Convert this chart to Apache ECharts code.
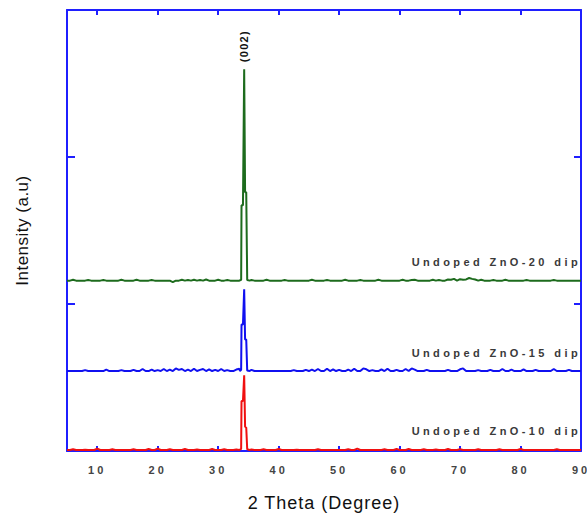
<!DOCTYPE html>
<html><head><meta charset="utf-8">
<script src="https://cdn.jsdelivr.net/npm/echarts@6/dist/echarts.min.js"></script>
<style>html,body{margin:0;padding:0;background:#fff}#c{width:587px;height:518px}</style>
</head><body><div id="c"></div>
<script>
// background sampling: 5..33.5 and 35.5..90 degrees, every 0.5 degree
const bgStart1 = 5, bgEnd1 = 33.5, bgStart2 = 35.5, bgEnd2 = 90, bgStep = 0.5;
// 2-theta sampling around the (002) reflection
const peakTheta = [33.6, 33.8, 33.86, 34.1, 34.3, 34.45, 34.64, 34.8, 35.2];

// intensities (a.u.), relative to each curve's own offset
const red10Base = [
  7,7,12,7,7,7,9,7,7,7, 16,7,7,7,7,12,7,7,7,7, 7,7,12,7,7,7,7,14,7,7,
  16,7,7,7,12,7,7,7,7,14, 7,7,7,10,7,7,7,7,14,7, 7,7,12,7,7,7,10,7,
  10,7,7,7,12,7,7,7,7,
  14,7,7,7,7,7,9,7,7,7, 7,7,7,12,7,7,7,7,7,7, 7,7,7,12,7,7,16,7,7,7,
  7,7,7,7,7,12,7,7,7,14, 7,7,7,14,7,7,7,7,12,7, 7,7,10,7,7,7,14,7,7,7,
  12,7,7,7,7,7,12,7,7,7, 7,7,7,12,7,7,7,7,7,7, 14,7,7,7,7,7,7,7,7,7,
  7,7,12,7,7,7,7,7,7,7, 7];
const red10Peak = [9, 15, 340, 340, 515, 165, 160, 12, 7];

const blue15Base = [
  4,4,4,4,4,4,10,4,4,4, 4,4,4,14,4,4,4,4,10,4, 4,4,12,4,4,18,4,4,14,4,
  10,4,18,4,14,4,22,12,18,4, 14,4,20,4,12,18,4,16,4,12, 4,18,4,10,4,4,14,20,
  12,4,4,4,4,4,4,4,4,
  4,4,4,4,4,10,4,4,4,12, 4,14,4,18,4,4,20,4,16,4, 12,4,4,14,4,20,4,4,22,16,
  4,10,4,4,16,4,20,4,4,12, 4,4,18,4,22,14,4,4,4,12, 4,4,4,4,4,4,12,4,4,4,
  16,22,4,4,4,4,10,4,4,4, 12,4,4,4,18,4,4,14,4,4, 4,16,4,4,4,12,4,4,4,4,
  4,18,4,4,4,4,12,4,4,4, 4];
const blue15Peak = [4, 12, 320, 320, 560, 218, 218, 8, 4];

const green20Base = [
  4,4,10,4,4,4,4,8,4,4, 4,4,8,4,4,4,4,4,10,4, 4,4,4,10,4,4,4,4,8,4,
  4,4,4,4,4,-6,4,4,10,4, 8,4,10,4,8,4,12,4,4,4, 10,4,4,8,4,4,4,4,
  8,4,4,4,4,10,4,4,4,
  4,4,8,4,4,4,4,4,4,4, 4,10,4,4,4,4,8,4,4,4, 4,4,10,4,4,4,4,8,4,4,
  4,4,4,10,4,4,4,4,4,4, 4,10,4,4,8,10,4,4,4,4, 4,10,4,8,4,4,12,10,16,4,
  14,10,12,22,16,12,4,10,4,4, 4,8,4,4,4,10,4,4,4,4, 4,4,8,4,4,4,4,4,4,4,
  4,8,4,4,4,4,4,4,4,4, 4];
const green20Peak = [4, 10, 517, 517, 1442, 605, 605, 8, 4];

// vertical offsets of the stacked curves (a.u.)
const offset10 = 0, offset15 = 540, offset20 = 1155;

const seriesNames = ['Undoped ZnO-10 dip', 'Undoped ZnO-15 dip', 'Undoped ZnO-20 dip'];
const peakLabel = '(002)';
const xTickValues = [10,20,30,40,50,60,70,80,90];
const xLabelValues = [10,20,30,40,50,60,70,80,90];
const xName = '2 Theta (Degree)';
const yName = 'Intensity (a.u)';

const AXIS = '#1f1fff';
const font = 'Liberation Sans, Arial, sans-serif';

const bgTheta = [];
for (let x = bgStart1; x <= bgEnd1 + 1e-9; x += bgStep) bgTheta.push(+x.toFixed(2));
for (let x = bgStart2; x <= bgEnd2 + 1e-9; x += bgStep) bgTheta.push(+x.toFixed(2));

function buildData(baseVals, peakVals, offset, name, withPeakLabel) {
  const pts = [];
  bgTheta.forEach((x, i) => pts.push([x, baseVals[i] + offset]));
  peakTheta.forEach((x, i) => pts.push([x, peakVals[i] + offset]));
  pts.sort((a, b) => a[0] - b[0]);
  let maxIdx = 0;
  pts.forEach((p, i) => { if (p[1] > pts[maxIdx][1]) maxIdx = i; });
  return pts.map((p, i) => {
    const item = { value: [p[0], p[1]] };
    if (i === pts.length - 1) {
      item.label = { show: true, formatter: name, position: 'top', align: 'right', distance: 13,
        color: '#3a3a3a', fontSize: 11, fontWeight: 'bold', fontFamily: font };
    }
    if (withPeakLabel && i === maxIdx) {
      item.label = { show: true, formatter: peakLabel, position: 'top', rotate: 90, align: 'left',
        verticalAlign: 'middle', distance: 7, color: '#111', fontSize: 11, fontWeight: 'bold',
        fontFamily: font };
    }
    return item;
  });
}

function lineSeries(data, color) {
  return {
    type: 'line', data: data,
    showSymbol: true, symbol: 'circle', symbolSize: 0,
    lineStyle: { color: color, width: 2 }, itemStyle: { color: color },
    clip: false, silent: true, animation: false,
    emphasis: { disabled: true }
  };
}

const chart = echarts.init(document.getElementById('c'), null, { renderer: 'svg' });
const axisCommon = { type: 'value', min: 5, max: 90, splitLine: { show: false },
  axisLine: { show: true, onZero: false, lineStyle: { color: AXIS, width: 2 } } };

chart.setOption({
  animation: false,
  backgroundColor: '#fff',
  grid: { left: 67, right: 6, top: 10, bottom: 67, containLabel: false, outerBoundsMode: 'none' },
  xAxis: [
    Object.assign({}, axisCommon, {
      position: 'bottom',
      axisTick: { show: true, inside: true, length: 5, customValues: xTickValues, lineStyle: { color: AXIS, width: 2 } },
      axisLabel: { show: true, customValues: xLabelValues, color: '#444', fontSize: 11, fontWeight: 'bold', margin: 13, fontFamily: font },
      name: xName, nameLocation: 'middle', nameGap: 43,
      nameTextStyle: { color: '#111', fontSize: 18, fontFamily: font }
    }),
    Object.assign({}, axisCommon, {
      position: 'top',
      axisTick: { show: true, inside: true, length: 5, customValues: xTickValues, lineStyle: { color: AXIS, width: 2 } },
      axisLabel: { show: false }
    })
  ],
  yAxis: [
    { type: 'value', min: 0, max: 3000, interval: 1000, position: 'left', splitLine: { show: false },
      axisLine: { show: true, onZero: false, lineStyle: { color: AXIS, width: 2 } },
      axisTick: { show: true, inside: true, length: 8, lineStyle: { color: AXIS, width: 2 } },
      axisLabel: { show: false },
      name: yName, nameLocation: 'middle', nameGap: 36, nameRotate: 90,
      nameTextStyle: { color: '#111', fontSize: 17, fontFamily: font } },
    { type: 'value', min: 0, max: 3000, interval: 1000, position: 'right', splitLine: { show: false },
      axisLine: { show: true, onZero: false, lineStyle: { color: AXIS, width: 2 } },
      axisTick: { show: true, inside: true, length: 7, lineStyle: { color: AXIS, width: 2 } },
      axisLabel: { show: false } }
  ],
  series: [
    lineSeries(buildData(red10Base, red10Peak, offset10, seriesNames[0], false), '#f01010'),
    lineSeries(buildData(blue15Base, blue15Peak, offset15, seriesNames[1], false), '#1010f0'),
    lineSeries(buildData(green20Base, green20Peak, offset20, seriesNames[2], true), '#1d6b1d')
  ]
});

function spaceText() {
  document.querySelectorAll('#c svg text').forEach(t => {
    const s = t.textContent;
    let ls = null;
    if (s.indexOf('Undoped') === 0) ls = '3.4px';
    else if (/^\d+$/.test(s)) ls = '3px';
    else if (s === peakLabel) ls = '1.3px';
    else if (s === xName) ls = '1px';
    else if (s === yName) ls = '0.5px';
    if (ls) t.setAttribute('letter-spacing', ls);
  });
}
spaceText();
chart.on('finished', spaceText);
setTimeout(spaceText, 50);
</script>
</body></html>
